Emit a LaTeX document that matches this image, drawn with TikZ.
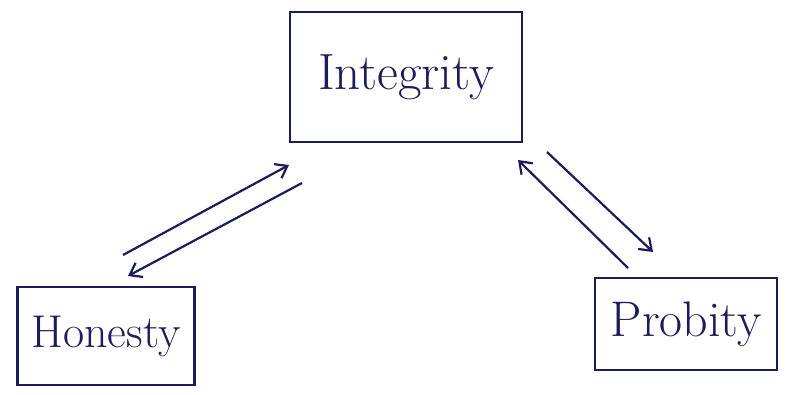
\documentclass[tikz,border=0pt]{standalone}
\usepackage{tikz}
\usetikzlibrary{arrows.meta}
\usepackage{xcolor}
\definecolor{ink}{HTML}{1C1C5A}
\tikzset{
  box/.style={draw=ink, line width=2.2pt, inner sep=0pt, text=ink},
  link/.style={-{Straight Barb[length=11pt,width=16pt]}, line width=2.2pt, draw=ink},
}

\begin{document}
\begin{tikzpicture}[x=1pt, y=-1pt]
  \useasboundingbox (0,0) rectangle (787,394);
  % Kästen
  \node[box, minimum width=232pt, minimum height=130pt, font=\fontsize{51}{54}\selectfont] (integrity) at (406,77) {Integrity};
  \node[box, minimum width=177pt, minimum height=98pt, font=\fontsize{46}{48}\selectfont] (honesty) at (106,336) {Honesty};
  \node[box, minimum width=182pt, minimum height=92pt, font=\fontsize{50}{52}\selectfont] (probity) at (686,324) {Probity};
  % Enden der Pfeile
  \coordinate (hon-out) at (123,255);
  \coordinate (int-in-l) at (289,165);
  \coordinate (int-out-l) at (302,183);
  \coordinate (hon-in) at (128,276);
  \coordinate (pro-out) at (628,268);
  \coordinate (int-in-r) at (518,160);
  \coordinate (int-out-r) at (547,152);
  \coordinate (pro-in) at (653,252);
  % Pfeile links
  \draw[link] (hon-out) -- (int-in-l);
  \draw[link] (int-out-l) -- (hon-in);
  % Pfeile rechts
  \draw[link] (pro-out) -- (int-in-r);
  \draw[link] (int-out-r) -- (pro-in);
\end{tikzpicture}
\end{document}
